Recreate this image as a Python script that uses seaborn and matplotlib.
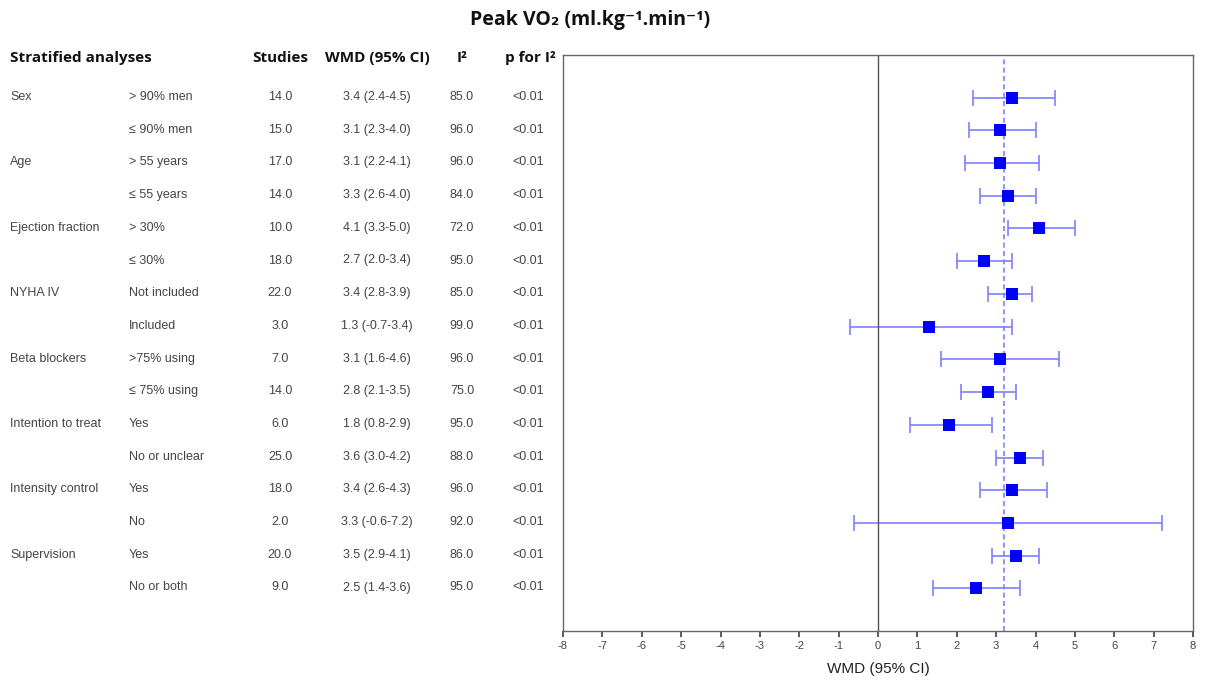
import matplotlib.pyplot as plt
import seaborn as sns
import pandas as pd

sns.set_theme(style="white")
plt.rcParams["font.family"] = ["Liberation Sans", "DejaVu Sans"]
plt.rcParams["axes.unicode_minus"] = False

# Data
groups = ["Sex", "", "Age", "", "Ejection fraction", "", "NYHA IV", "",
          "Beta blockers", "", "Intention to treat", "", "Intensity control", "",
          "Supervision", ""]
subgroups = ["> 90% men", "\u2264 90% men", "> 55 years", "\u2264 55 years",
             "> 30%", "\u2264 30%", "Not included", "Included",
             ">75% using", "\u2264 75% using", "Yes", "No or unclear",
             "Yes", "No", "Yes", "No or both"]
studies = [14, 15, 17, 14, 10, 18, 22, 3, 7, 14, 6, 25, 18, 2, 20, 9]
wmd = [3.4, 3.1, 3.1, 3.3, 4.1, 2.7, 3.4, 1.3, 3.1, 2.8, 1.8, 3.6, 3.4, 3.3, 3.5, 2.5]
lower = [2.4, 2.3, 2.2, 2.6, 3.3, 2.0, 2.8, -0.7, 1.6, 2.1, 0.8, 3.0, 2.6, -0.6, 2.9, 1.4]
upper = [4.5, 4.0, 4.1, 4.0, 5.0, 3.4, 3.9, 3.4, 4.6, 3.5, 2.9, 4.2, 4.3, 7.2, 4.1, 3.6]
i2 = [85, 96, 96, 84, 72, 95, 85, 99, 96, 75, 95, 88, 96, 92, 86, 95]
p_i2 = ["<0.01"] * 16
pooled = 3.2

df = pd.DataFrame({"row": range(len(wmd)), "wmd": wmd, "lower": lower, "upper": upper})

fig = plt.figure(figsize=(12.08, 6.8), dpi=100)
ax = fig.add_axes([563 / 1208, 1 - 631 / 680, 630 / 1208, 576 / 680])

ax.errorbar(df["wmd"], df["row"],
            xerr=[df["wmd"] - df["lower"], df["upper"] - df["wmd"]],
            fmt="none", ecolor="#7f7fff", elinewidth=1.2, capsize=6, capthick=1.2)
sns.scatterplot(data=df, x="wmd", y="row", marker="s", s=85, color="#0000ff",
                edgecolor="#0000ff", linewidth=0, ax=ax, zorder=3)
ax.axvline(0, color="#555555", lw=1)
ax.axvline(pooled, color="#7f7fff", lw=1.2, ls=(0, (3, 2)))

ax.set_xlim(-8, 8)
ax.set_ylim(16.3, -1.3)
ax.set_xticks(range(-8, 9))
ax.set_yticks([])
ax.tick_params(axis="x", labelsize=8, colors="#444444", length=4, direction="out",
               bottom=True, pad=3)
ax.set_xlabel("WMD (95% CI)", fontsize=11, color="#222222", labelpad=8)
ax.set_ylabel("")
for sp in ax.spines.values():
    sp.set_color("#666666")
    sp.set_linewidth(1)

# Left-hand table
def fy(py):
    return 1 - py / 680

hdr = dict(fontsize=11, fontweight="bold", color="#111111", va="center",
           transform=fig.transFigure, family=["Open Sans", "DejaVu Sans"])
fig.text(10 / 1208, fy(58), "Stratified analyses", ha="left", **hdr)
fig.text(280 / 1208, fy(58), "Studies", ha="center", **hdr)
fig.text(377 / 1208, fy(58), "WMD (95% CI)", ha="center", **hdr)
fig.text(462 / 1208, fy(58), "I\u00b2", ha="center", **hdr)
fig.text(530 / 1208, fy(58), "p for I\u00b2", ha="center", **hdr)

cell = dict(fontsize=9, color="#444444", va="center", transform=fig.transFigure)
for i in range(len(wmd)):
    py = 97 + i * 32.7
    fig.text(10 / 1208, fy(py), groups[i], ha="left", **cell)
    fig.text(129 / 1208, fy(py), subgroups[i], ha="left", **cell)
    fig.text(280 / 1208, fy(py), f"{studies[i]:.1f}", ha="center", **cell)
    fig.text(377 / 1208, fy(py), f"{wmd[i]:.1f} ({lower[i]:.1f}-{upper[i]:.1f})",
             ha="center", **cell)
    fig.text(462 / 1208, fy(py), f"{i2[i]:.1f}", ha="center", **cell)
    fig.text(528 / 1208, fy(py), p_i2[i], ha="center", **cell)

fig.text(590 / 1208, fy(20), "Peak VO\u2082 (ml.kg\u207b\u00b9.min\u207b\u00b9)", ha="center",
         va="center", fontsize=14, color="#111111", fontweight="bold",
         transform=fig.transFigure, family=["Open Sans", "DejaVu Sans"])

fig.savefig("out.png", dpi=100)
